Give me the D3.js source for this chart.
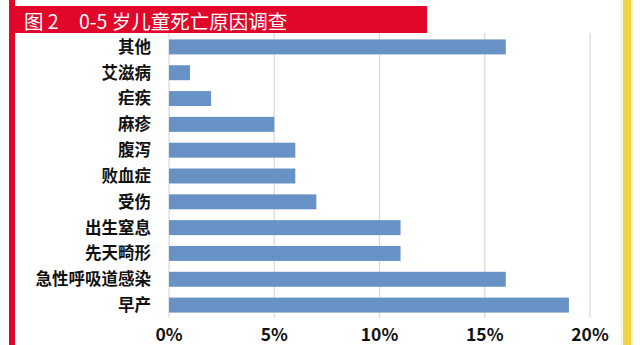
<!DOCTYPE html>
<html><head><meta charset="utf-8">
<script src="https://cdn.jsdelivr.net/npm/d3@7"></script>
<style>html,body{margin:0;padding:0;background:#fff;}</style>
</head><body>
<svg id="c" width="640" height="345"></svg>
<script>
const categories = ["其他","艾滋病","疟疾","麻疹","腹泻","败血症","受伤","出生窒息","先天畸形","急性呼吸道感染","早产"];
const values = [16,1,2,5,6,6,7,11,11,16,19];
const ticks = [0,5,10,15,20];
const titleNum = "图 2";
const titleText = "0-5 岁儿童死亡原因调查";

const svg = d3.select("#c");
const font = "'Noto Sans CJK SC','Noto Sans',sans-serif";

// frame decorations
svg.append("rect").attr("x",9).attr("y",0).attr("width",6).attr("height",345).attr("fill","#e2062b");
svg.append("rect").attr("x",621).attr("y",0).attr("width",12).attr("height",345).attr("fill","#fbf3cf");
svg.append("rect").attr("x",623).attr("y",0).attr("width",8).attr("height",345).attr("fill","#f0d44a");

const x = d3.scaleLinear().domain([0,20]).range([169,590]);
const y = d3.scaleBand().domain(categories).range([34,318]).paddingInner(0.42).paddingOuter(0.21);

// grid
svg.append("g").selectAll("line").data(ticks).join("line")
  .attr("x1",d=>x(d)).attr("x2",d=>x(d)).attr("y1",33).attr("y2",318)
  .attr("stroke","#d9d9d9").attr("stroke-width",1.2);

// bars
svg.append("g").selectAll("rect").data(values).join("rect")
  .attr("x",x(0)).attr("y",(d,i)=>y(categories[i]))
  .attr("width",d=>x(d)-x(0)).attr("height",y.bandwidth())
  .attr("fill","#6892c5");

// category labels
svg.append("g").selectAll("text").data(categories).join("text")
  .attr("x",151).attr("y",d=>y(d)+y.bandwidth()/2).attr("dy","0.36em")
  .attr("text-anchor","end").attr("font-family",font).attr("font-weight","bold")
  .attr("font-size",16.5).attr("fill","#111").text(d=>d);

// x tick labels
svg.append("g").selectAll("text").data(ticks).join("text")
  .attr("x",d=>x(d)).attr("y",341).attr("text-anchor","middle")
  .attr("font-family",font).attr("font-weight","bold")
  .attr("font-size",17.5).attr("fill","#111").text(d=>d+"%");

// title band
svg.append("rect").attr("x",9).attr("y",6).attr("width",418).attr("height",27).attr("fill","#e2062b");
svg.append("text").attr("x",24).attr("y",28.5).attr("font-family",font).attr("font-size",19.5)
  .attr("fill","#fff").text(titleNum);
svg.append("text").attr("x",79).attr("y",28.5).attr("font-family",font).attr("font-size",19.5)
  .attr("fill","#fff").text(titleText);
</script>
</body></html>
